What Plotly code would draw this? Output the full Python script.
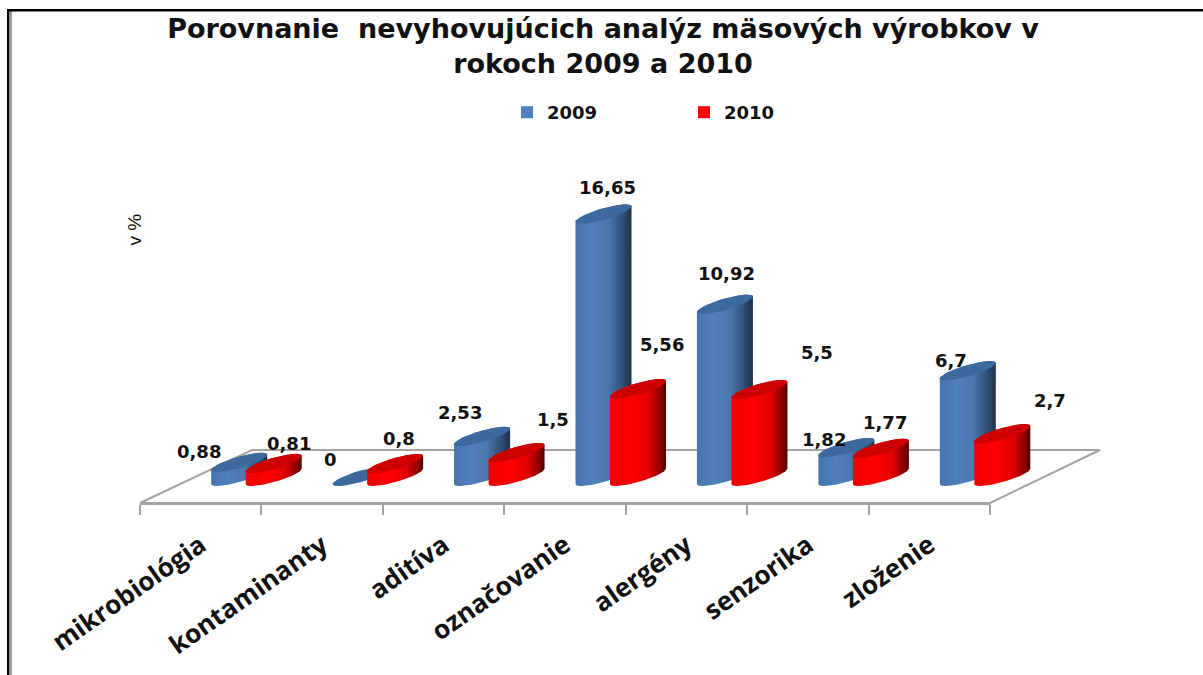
import math
import plotly.graph_objects as go

categories = ["mikrobiológia", "kontaminanty", "aditíva", "označovanie", "alergény", "senzorika", "zloženie"]
values_2009 = [0.88, 0, 2.53, 16.65, 10.92, 1.82, 6.7]
values_2010 = [0.81, 0.8, 1.5, 5.56, 5.5, 1.77, 2.7]
labels_2009 = ["0,88", "0", "2,53", "16,65", "10,92", "1,82", "6,7"]
labels_2010 = ["0,81", "0,8", "1,5", "5,56", "5,5", "1,77", "2,7"]
title_text = "Porovnanie  nevyhovujúcich analýz mäsových výrobkov v<br>rokoch 2009 a 2010"

# label offsets from each cap centre, in screen pixels
shift_2009 = [(-40, 11), (-30, 17), (-22, 24), (4, 27), (2, 31), (-22, 8), (-17, 10)]
shift_2010 = [(15, 20), (4, 25), (36, 33), (24, 44), (58, 37), (4, 26), (48, 33)]

W, H = 1203, 675
PX_CAT = 121.43      # pixels per category on the x axis
PX_VAL = 15.75       # pixels per value unit
X_LEFT, X_RIGHT = 140, 990
AXIS_Y = 503
ZERO_Y = 476.3       # screen height of value 0 (centre of cylinder bases)

A = 28 / PX_CAT      # cylinder half width
B = 9.7 / PX_VAL     # ellipse half height
PHI = math.radians(37)
DEPTH = {"2009": 38.5 / PX_CAT, "2010": 73 / PX_CAT}
N = 32

BODY = {
    "2009": [[0, "#4675ad"], [0.3, "#5080bd"], [0.6, "#4a77ad"], [0.85, "#2f4d73"], [1, "#1d3047"]],
    "2010": [[0, "#f00000"], [0.4, "#ff0000"], [0.7, "#e00000"], [0.9, "#8c0000"], [1, "#4d0000"]],
}
CAP = {"2009": "#3d6a9e", "2010": "#cc0000"}
LEGEND = {"2009": "#4f81bd", "2010": "#ff0000"}
GRID = "#a3a3a3"
INK = "#111111"


def arc(cx, cy, t0, t1):
    ts = [t0 + (t1 - t0) * i / N for i in range(N + 1)]
    return ([cx + A * math.cos(t) for t in ts], [cy + B * math.cos(t - PHI) for t in ts])


def cylinder(fig, i, value, series):
    cx = i + DEPTH[series]
    if value > 0:
        bx, by = arc(cx, 0, math.pi, 2 * math.pi)        # lower edge of the base
        tx, ty = arc(cx, value, 0, math.pi)              # upper edge of the top
        fig.add_trace(go.Scatter(
            x=bx + tx + bx[:1], y=by + ty + by[:1], mode="lines", line=dict(width=0),
            fill="toself", fillgradient=dict(type="horizontal", colorscale=BODY[series]),
            hoverinfo="skip", showlegend=False))
    cpx, cpy = arc(cx, value, 0, 2 * math.pi)
    fig.add_trace(go.Scatter(
        x=cpx, y=cpy, mode="lines", line=dict(width=0), fill="toself", fillcolor=CAP[series],
        hoverinfo="skip", showlegend=False))


fig = go.Figure()

for series in ("2009", "2010"):
    fig.add_trace(go.Bar(x=[None], y=[None], name=series, marker=dict(color=LEGEND[series], line=dict(width=0))))

y_bottom = (ZERO_Y - AXIS_Y) / PX_VAL
y_top = ZERO_Y / PX_VAL

# front floor edge, carried by the axis that has the tick marks between categories
fig.add_trace(go.Scatter(x=[-0.5, len(categories) - 0.5], y=[y_bottom, y_bottom], xaxis="x2", yaxis="y",
                         mode="lines", line=dict(color=GRID, width=2), hoverinfo="skip", showlegend=False,
                         cliponaxis=False))

for i in range(len(categories)):
    cylinder(fig, i, values_2009[i], "2009")
    cylinder(fig, i, values_2010[i], "2010")

annotations = []
for series, vals, labs, shifts in (("2009", values_2009, labels_2009, shift_2009),
                                   ("2010", values_2010, labels_2010, shift_2010)):
    for i, (v, lab, s) in enumerate(zip(vals, labs, shifts)):
        annotations.append(dict(x=i + DEPTH[series], y=v, xref="x", yref="y", text=lab, showarrow=False,
                                xshift=s[0], yshift=s[1],
                                font=dict(family="DejaVu Sans", size=18, weight=700, color=INK)))
annotations.append(dict(x=121 / W, y=1 - 230 / H, xref="paper", yref="paper", text="v %", textangle=-90,
                        showarrow=False, font=dict(family="Liberation Sans", size=19, color=INK)))


def px(x):
    return x / W


def py(y):
    return 1 - y / H


floor = (f"M {px(X_LEFT)} {py(AXIS_Y)} L {px(252)} {py(450)} L {px(1100)} {py(450)} "
         f"L {px(X_RIGHT)} {py(AXIS_Y)}")
shapes = [
    dict(type="path", path=floor, xref="paper", yref="paper", line=dict(color=GRID, width=2), layer="below"),
    dict(type="rect", x0=px(9), x1=px(12), y0=0, y1=py(11), xref="paper", yref="paper",
         fillcolor="#999999", line=dict(width=0)),
    dict(type="rect", x0=px(7), x1=px(9), y0=0, y1=py(9), xref="paper", yref="paper",
         fillcolor="#000000", line=dict(width=0)),
    dict(type="rect", x0=px(7), x1=1, y0=py(11.5), y1=py(9), xref="paper", yref="paper",
         fillcolor="#000000", line=dict(width=0)),
]

fig.update_layout(
    width=W, height=H, autosize=False,
    margin=dict(l=0, r=0, t=0, b=0, autoexpand=False),
    paper_bgcolor="white", plot_bgcolor="rgba(0,0,0,0)",
    showlegend=True,
    legend=dict(orientation="h", x=507 / W, xanchor="left", y=1 - 94 / H, yanchor="top",
                entrywidth=132, entrywidthmode="pixels", itemwidth=30, traceorder="normal",
                font=dict(family="DejaVu Sans", size=18, weight=700, color=INK), bgcolor="rgba(0,0,0,0)"),
    title=dict(text="<b>" + title_text.replace("<br>", "</b><br><b>") + "</b>", x=603 / W, xanchor="center",
               y=1 - 38 / H, yanchor="top",
               font=dict(family="DejaVu Sans", size=27, color=INK)),
    xaxis=dict(domain=[0, 1],
               range=[-0.5 - X_LEFT / PX_CAT, -0.5 + (W - X_LEFT) / PX_CAT],
               tickmode="array", tickvals=list(range(len(categories))), ticktext=categories,
               tickangle=-35, ticks="", ticklabelstandoff=21, showgrid=False, zeroline=False,
               showline=False, automargin=False,
               tickfont=dict(family="Open Sans", size=26, weight=700, color=INK)),
    xaxis2=dict(domain=[X_LEFT / W, X_RIGHT / W], range=[-0.5, len(categories) - 0.5], anchor="y",
                tickmode="array", tickvals=[k - 0.5 for k in range(len(categories) + 1)],
                showticklabels=False, ticks="outside", ticklen=10, tickwidth=2, tickcolor=GRID,
                showgrid=False, zeroline=False, showline=True, linecolor=GRID, linewidth=2),
    yaxis=dict(domain=[(H - AXIS_Y) / H, 1], range=[y_bottom, y_top], visible=False),
    annotations=annotations,
    shapes=shapes,
)

fig.write_html("out.html", config=dict(displayModeBar=False),
               post_script="document.body.style.margin='0';")
